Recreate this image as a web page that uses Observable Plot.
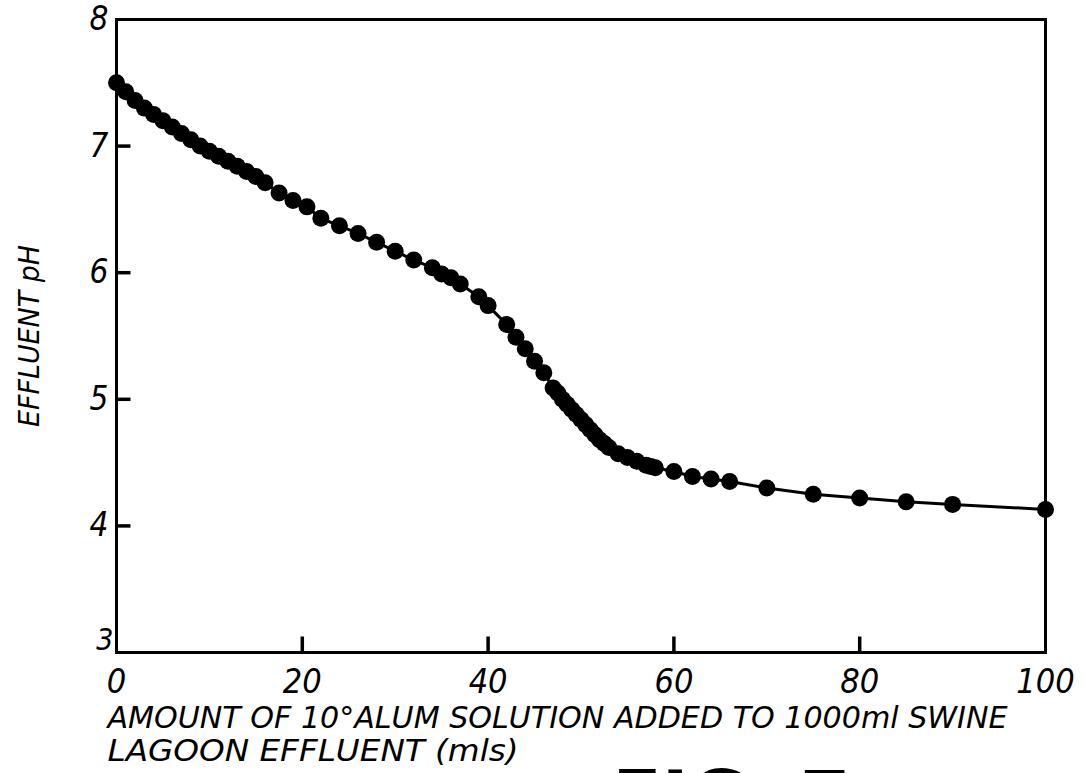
<!DOCTYPE html>
<html><head><meta charset="utf-8">
<script src="https://cdn.jsdelivr.net/npm/d3@7"></script>
<script src="https://cdn.jsdelivr.net/npm/@observablehq/plot@0.6"></script>
<style>html,body{margin:0;padding:0;background:#fff;overflow:hidden}</style>
</head><body><div id="chart"></div>
<script>
const alumMl = [0,1,2,3,4,5,6,7,8,9,10,11,12,13,14,15,16,17.5,19,20.5,22,24,26,28,30,32,34,35,36,37,39,40,42,43,44,45,46,47,47.5,48,48.5,49,49.5,50,50.5,51,51.5,52,52.5,53,54,55,56,57,57.5,58,60,62,64,66,70,75,80,85,90,100];
const effluentPH = [7.50,7.43,7.36,7.30,7.25,7.20,7.15,7.10,7.05,7.00,6.96,6.92,6.88,6.84,6.80,6.76,6.71,6.63,6.57,6.52,6.43,6.37,6.31,6.24,6.17,6.10,6.04,5.99,5.96,5.91,5.81,5.74,5.59,5.49,5.40,5.30,5.21,5.09,5.05,5.00,4.96,4.92,4.88,4.84,4.80,4.76,4.72,4.68,4.65,4.62,4.57,4.54,4.51,4.48,4.47,4.46,4.43,4.39,4.37,4.35,4.30,4.25,4.22,4.19,4.17,4.13];
const xTicks = [0,20,40,60,80,100];
const yTicks = [4,5,6,7,8];
const yBottomLabel = [3];
const xTitle1 = "AMOUNT OF 10°ALUM SOLUTION ADDED TO 1000ml SWINE";
const xTitle2 = "LAGOON EFFLUENT (mls)";
const yTitle = "EFFLUENT pH";
const figLabel = "FIG. 7";

const data = alumMl.map((x, i) => ({x, y: effluentPH[i]}));
const font = `"DejaVu Sans Condensed","Liberation Sans Narrow","DejaVu Sans",sans-serif`;
const W = 1086, H = 773, ML = 116, MR = 41, MT = 19, MB = 121;
const innerW = W - ML - MR, innerH = H - MT - MB;
const xDomain = [0, 100], yDomain = [3, 8];
// inward tick lengths (pixels) converted to data units
const xTickData = 16 / (innerH / (yDomain[1] - yDomain[0]));
const yTickData = 14 / (innerW / (xDomain[1] - xDomain[0]));

const chart = Plot.plot({
  width: W, height: H,
  marginLeft: ML, marginRight: MR, marginTop: MT, marginBottom: MB,
  style: {fontFamily: font, fontStyle: "italic", color: "black", background: "white"},
  x: {domain: xDomain},
  y: {domain: yDomain},
  marks: [
    Plot.frame({stroke: "black", strokeWidth: 3}),
    Plot.link(xTicks.slice(1, -1), {x1: d => d, x2: d => d, y1: () => yDomain[0], y2: () => yDomain[0] + xTickData, stroke: "black", strokeWidth: 3.5}),
    Plot.link(yTicks.slice(0, -1), {y1: d => d, y2: d => d, x1: () => xDomain[0], x2: () => xDomain[0] + yTickData, stroke: "black", strokeWidth: 3.5}),
    Plot.axisX({ticks: xTicks, tickSize: 0, tickPadding: 16, fontSize: 34, tickFormat: d => String(d), label: null}),
    Plot.axisY({ticks: yTicks, tickSize: 0, tickPadding: 8, fontSize: 33, tickFormat: d => String(d), label: null}),
    Plot.text(yBottomLabel, {y: d => d, text: d => String(d), frameAnchor: "left", textAnchor: "end", dx: -3, dy: -12, fontSize: 30}),
    Plot.line(data, {x: "x", y: "y", stroke: "black", strokeWidth: 3}),
    Plot.dot(data, {x: "x", y: "y", r: 8.5, fill: "black"}),
    Plot.text([yTitle], {frameAnchor: "left", textAnchor: "middle", rotate: -90, dx: -86, fontSize: 28}),
    Plot.text([xTitle1], {frameAnchor: "bottom-left", textAnchor: "start", lineAnchor: "bottom", dx: -9, dy: 75, fontSize: 30}),
    Plot.text([xTitle2], {frameAnchor: "bottom-left", textAnchor: "start", lineAnchor: "bottom", dx: -9, dy: 108, fontSize: 30}),
    Plot.text([figLabel], {frameAnchor: "bottom-left", textAnchor: "start", lineAnchor: "top", dx: 496, dy: 119, fontSize: 80, fontWeight: "bold", fontStyle: "normal"})
  ]
});
document.getElementById("chart").appendChild(chart);
const svg = d3.select(chart);
const fit = (str, len) => svg.selectAll("text").filter(function () { return this.textContent === str; })
  .attr("textLength", len).attr("lengthAdjust", "spacingAndGlyphs");
fit(xTitle1, 900);
fit(xTitle2, 411);
fit(yTitle, 182);
</script>
</body></html>
